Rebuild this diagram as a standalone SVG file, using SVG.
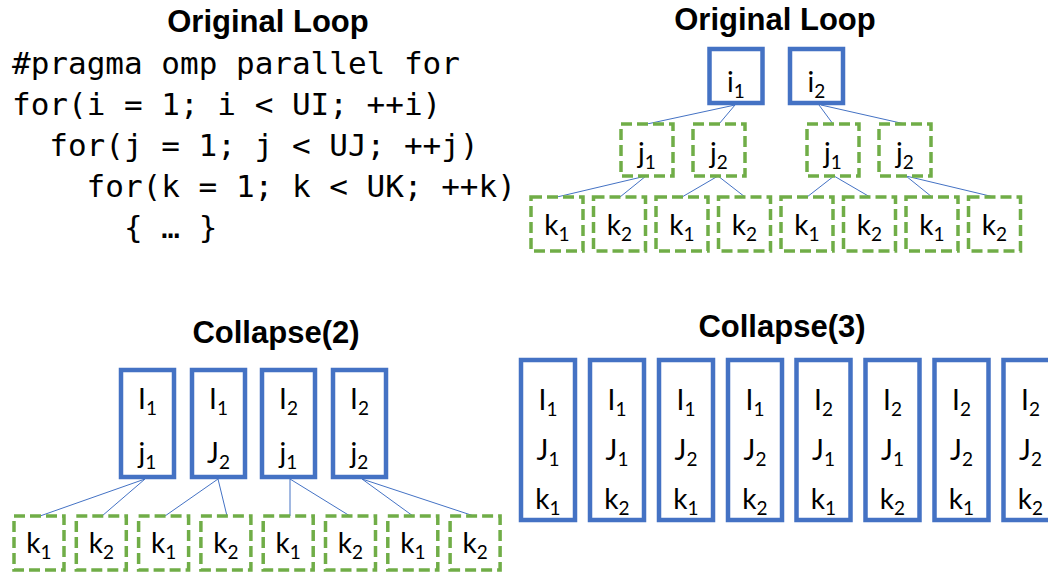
<svg xmlns="http://www.w3.org/2000/svg" width="1048" height="573" viewBox="0 0 1048 573">
  <style>
    .title { font-family: "Liberation Sans", Arial, sans-serif; font-weight: bold; font-size: 31px; fill: #000; text-anchor: middle; }
    .code { font-family: "DejaVu Sans Mono", "Liberation Mono", monospace; font-size: 31px; fill: #000; }
    .solid { fill: #fff; stroke: #4472C4; stroke-width: 4.5; }
    .dash { fill: #fff; stroke: #70AD47; stroke-width: 3.5; stroke-dasharray: 11 5; }
    .lbl { font-family: Lato, "Open Sans", sans-serif; font-size: 28px; fill: #000; text-anchor: middle; }
    .sub { font-size: 19px; }
    .edge { stroke: #4472C4; stroke-width: 1; fill: none; }
  </style>

  <!-- Titles -->
  <text class="title" x="268" y="32">Original Loop</text>
  <text class="title" x="775" y="30">Original Loop</text>
  <text class="title" x="276" y="343">Collapse(2)</text>
  <text class="title" x="782" y="337">Collapse(3)</text>

  <!-- Source code -->
  <g id="code">
    <text class="code" x="12" y="74">#pragma omp parallel for</text>
    <text class="code" x="12" y="115">for(i = 1; i &lt; UI; ++i)</text>
    <text class="code" x="49.3" y="156">for(j = 1; j &lt; UJ; ++j)</text>
    <text class="code" x="86.6" y="197">for(k = 1; k &lt; UK; ++k)</text>
    <text class="code" x="124" y="238">{ … }</text>
  </g>

  <!-- Connectors -->
  <g id="connectors">
    <line class="edge" x1="735" y1="105" x2="647" y2="124"/>
    <line class="edge" x1="735" y1="105" x2="719" y2="124"/>
    <line class="edge" x1="819" y1="105" x2="833" y2="124"/>
    <line class="edge" x1="821" y1="105" x2="905" y2="124"/>
    <line class="edge" x1="646" y1="176" x2="557" y2="197"/>
    <line class="edge" x1="646" y1="176" x2="620" y2="197"/>
    <line class="edge" x1="718" y1="176" x2="682" y2="197"/>
    <line class="edge" x1="718" y1="176" x2="745" y2="197"/>
    <line class="edge" x1="834" y1="176" x2="807" y2="197"/>
    <line class="edge" x1="834" y1="176" x2="870" y2="197"/>
    <line class="edge" x1="906" y1="176" x2="932" y2="197"/>
    <line class="edge" x1="906" y1="176" x2="994" y2="197"/>

    <line class="edge" x1="145" y1="479" x2="40" y2="516"/>
    <line class="edge" x1="145" y1="479" x2="102" y2="516"/>
    <line class="edge" x1="218" y1="479" x2="165" y2="516"/>
    <line class="edge" x1="218" y1="479" x2="227" y2="516"/>
    <line class="edge" x1="290" y1="479" x2="290" y2="516"/>
    <line class="edge" x1="290" y1="479" x2="350" y2="516"/>
    <line class="edge" x1="362" y1="479" x2="413" y2="516"/>
    <line class="edge" x1="362" y1="479" x2="474" y2="516"/>
  </g>

  <!-- Original loop tree: i level -->
  <g id="t-i1"><rect class="solid" x="709.5" y="49" width="53" height="54"/><text class="lbl" x="736" y="92">i<tspan class="sub" dy="6">1</tspan></text></g>
  <g id="t-i2"><rect class="solid" x="790" y="49" width="53" height="54"/><text class="lbl" x="816.5" y="92">i<tspan class="sub" dy="6">2</tspan></text></g>

  <!-- j level -->
  <g id="t-j1a"><rect class="dash" x="621" y="124" width="52" height="52"/><text class="lbl" x="647" y="163">j<tspan class="sub" dy="6">1</tspan></text></g>
  <g id="t-j2a"><rect class="dash" x="693" y="124" width="52" height="52"/><text class="lbl" x="719" y="163">j<tspan class="sub" dy="6">2</tspan></text></g>
  <g id="t-j1b"><rect class="dash" x="807" y="124" width="52" height="52"/><text class="lbl" x="833" y="163">j<tspan class="sub" dy="6">1</tspan></text></g>
  <g id="t-j2b"><rect class="dash" x="879" y="124" width="52" height="52"/><text class="lbl" x="905" y="163">j<tspan class="sub" dy="6">2</tspan></text></g>

  <!-- k level -->
  <g id="t-k1"><rect class="dash" x="531" y="197" width="52" height="54"/><text class="lbl" x="557" y="235">k<tspan class="sub" dy="6">1</tspan></text></g>
  <g id="t-k2"><rect class="dash" x="593.5" y="197" width="52" height="54"/><text class="lbl" x="619.5" y="235">k<tspan class="sub" dy="6">2</tspan></text></g>
  <g id="t-k3"><rect class="dash" x="656" y="197" width="52" height="54"/><text class="lbl" x="682" y="235">k<tspan class="sub" dy="6">1</tspan></text></g>
  <g id="t-k4"><rect class="dash" x="718.5" y="197" width="52" height="54"/><text class="lbl" x="744.5" y="235">k<tspan class="sub" dy="6">2</tspan></text></g>
  <g id="t-k5"><rect class="dash" x="781" y="197" width="52" height="54"/><text class="lbl" x="807" y="235">k<tspan class="sub" dy="6">1</tspan></text></g>
  <g id="t-k6"><rect class="dash" x="843.5" y="197" width="52" height="54"/><text class="lbl" x="869.5" y="235">k<tspan class="sub" dy="6">2</tspan></text></g>
  <g id="t-k7"><rect class="dash" x="906" y="197" width="52" height="54"/><text class="lbl" x="932" y="235">k<tspan class="sub" dy="6">1</tspan></text></g>
  <g id="t-k8"><rect class="dash" x="968.5" y="197" width="52" height="54"/><text class="lbl" x="994.5" y="235">k<tspan class="sub" dy="6">2</tspan></text></g>

  <!-- Collapse(2): fused i/j iterations -->
  <g id="c2-ij1"><rect class="solid" x="121" y="370" width="53" height="107"/>
    <text class="lbl" x="147.5" y="409">I<tspan class="sub" dy="6">1</tspan></text>
    <text class="lbl" x="147.5" y="463">j<tspan class="sub" dy="6">1</tspan></text></g>
  <g id="c2-ij2"><rect class="solid" x="192" y="370" width="53" height="107"/>
    <text class="lbl" x="218.5" y="409">I<tspan class="sub" dy="6">1</tspan></text>
    <text class="lbl" x="218.5" y="463">J<tspan class="sub" dy="6">2</tspan></text></g>
  <g id="c2-ij3"><rect class="solid" x="262" y="370" width="53" height="107"/>
    <text class="lbl" x="288.5" y="409">I<tspan class="sub" dy="6">2</tspan></text>
    <text class="lbl" x="288.5" y="463">j<tspan class="sub" dy="6">1</tspan></text></g>
  <g id="c2-ij4"><rect class="solid" x="333" y="370" width="53" height="107"/>
    <text class="lbl" x="359.5" y="409">I<tspan class="sub" dy="6">2</tspan></text>
    <text class="lbl" x="359.5" y="463">j<tspan class="sub" dy="6">2</tspan></text></g>

  <!-- Collapse(2): inner k iterations -->
  <g id="c2-k1"><rect class="dash" x="14" y="516" width="50" height="54"/><text class="lbl" x="39" y="553">k<tspan class="sub" dy="6">1</tspan></text></g>
  <g id="c2-k2"><rect class="dash" x="76.3" y="516" width="50" height="54"/><text class="lbl" x="101.3" y="553">k<tspan class="sub" dy="6">2</tspan></text></g>
  <g id="c2-k3"><rect class="dash" x="138.6" y="516" width="50" height="54"/><text class="lbl" x="163.6" y="553">k<tspan class="sub" dy="6">1</tspan></text></g>
  <g id="c2-k4"><rect class="dash" x="200.9" y="516" width="50" height="54"/><text class="lbl" x="225.9" y="553">k<tspan class="sub" dy="6">2</tspan></text></g>
  <g id="c2-k5"><rect class="dash" x="263.2" y="516" width="50" height="54"/><text class="lbl" x="288.2" y="553">k<tspan class="sub" dy="6">1</tspan></text></g>
  <g id="c2-k6"><rect class="dash" x="325.5" y="516" width="50" height="54"/><text class="lbl" x="350.5" y="553">k<tspan class="sub" dy="6">2</tspan></text></g>
  <g id="c2-k7"><rect class="dash" x="387.8" y="516" width="50" height="54"/><text class="lbl" x="412.8" y="553">k<tspan class="sub" dy="6">1</tspan></text></g>
  <g id="c2-k8"><rect class="dash" x="450.1" y="516" width="50" height="54"/><text class="lbl" x="475.1" y="553">k<tspan class="sub" dy="6">2</tspan></text></g>

  <!-- Collapse(3): fully fused iterations -->
  <g id="c3-1"><rect class="solid" x="521" y="360" width="54" height="160"/>
    <text class="lbl" x="548" y="410">I<tspan class="sub" dy="6">1</tspan></text>
    <text class="lbl" x="548" y="460">J<tspan class="sub" dy="6">1</tspan></text>
    <text class="lbl" x="548" y="509">k<tspan class="sub" dy="6">1</tspan></text></g>
  <g id="c3-2"><rect class="solid" x="590" y="360" width="54" height="160"/>
    <text class="lbl" x="617" y="410">I<tspan class="sub" dy="6">1</tspan></text>
    <text class="lbl" x="617" y="460">J<tspan class="sub" dy="6">1</tspan></text>
    <text class="lbl" x="617" y="509">k<tspan class="sub" dy="6">2</tspan></text></g>
  <g id="c3-3"><rect class="solid" x="659" y="360" width="54" height="160"/>
    <text class="lbl" x="686" y="410">I<tspan class="sub" dy="6">1</tspan></text>
    <text class="lbl" x="686" y="460">J<tspan class="sub" dy="6">2</tspan></text>
    <text class="lbl" x="686" y="509">k<tspan class="sub" dy="6">1</tspan></text></g>
  <g id="c3-4"><rect class="solid" x="728" y="360" width="54" height="160"/>
    <text class="lbl" x="755" y="410">I<tspan class="sub" dy="6">1</tspan></text>
    <text class="lbl" x="755" y="460">J<tspan class="sub" dy="6">2</tspan></text>
    <text class="lbl" x="755" y="509">k<tspan class="sub" dy="6">2</tspan></text></g>
  <g id="c3-5"><rect class="solid" x="796.5" y="360" width="54" height="160"/>
    <text class="lbl" x="823.5" y="410">I<tspan class="sub" dy="6">2</tspan></text>
    <text class="lbl" x="823.5" y="460">J<tspan class="sub" dy="6">1</tspan></text>
    <text class="lbl" x="823.5" y="509">k<tspan class="sub" dy="6">1</tspan></text></g>
  <g id="c3-6"><rect class="solid" x="865.5" y="360" width="54" height="160"/>
    <text class="lbl" x="892.5" y="410">I<tspan class="sub" dy="6">2</tspan></text>
    <text class="lbl" x="892.5" y="460">J<tspan class="sub" dy="6">1</tspan></text>
    <text class="lbl" x="892.5" y="509">k<tspan class="sub" dy="6">2</tspan></text></g>
  <g id="c3-7"><rect class="solid" x="934.5" y="360" width="54" height="160"/>
    <text class="lbl" x="961.5" y="410">I<tspan class="sub" dy="6">2</tspan></text>
    <text class="lbl" x="961.5" y="460">J<tspan class="sub" dy="6">2</tspan></text>
    <text class="lbl" x="961.5" y="509">k<tspan class="sub" dy="6">1</tspan></text></g>
  <g id="c3-8"><rect class="solid" x="1003.5" y="360" width="54" height="160"/>
    <text class="lbl" x="1030.5" y="410">I<tspan class="sub" dy="6">2</tspan></text>
    <text class="lbl" x="1030.5" y="460">J<tspan class="sub" dy="6">2</tspan></text>
    <text class="lbl" x="1030.5" y="509">k<tspan class="sub" dy="6">2</tspan></text></g>
</svg>
